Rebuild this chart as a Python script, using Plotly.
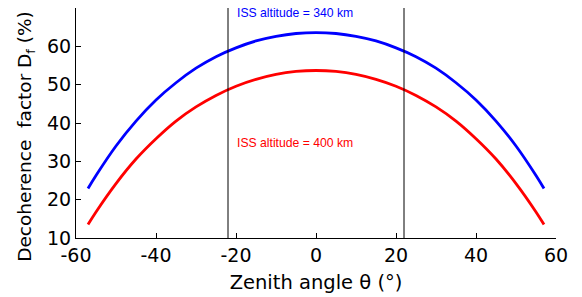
import plotly.graph_objects as go

theta = [-57, -55, -50, -45, -40, -35, -30, -25, -20, -15, -10, -5, 0,
         5, 10, 15, 20, 25, 30, 35, 40, 45, 50, 55, 57]
d_340 = [22.9, 26.3, 34.0, 40.5, 46.0, 50.5, 54.3, 57.3, 59.6, 61.4, 62.6, 63.35, 63.6,
         63.35, 62.6, 61.4, 59.6, 57.3, 54.3, 50.5, 46.0, 40.5, 34.0, 26.3, 22.9]
d_400 = [13.5, 16.8, 24.2, 30.6, 35.9, 40.5, 44.2, 47.2, 49.6, 51.4, 52.7, 53.45, 53.7,
         53.45, 52.7, 51.4, 49.6, 47.2, 44.2, 40.5, 35.9, 30.6, 24.2, 16.8, 13.5]
vlines = [-22, 22]
xticks = [-60, -40, -20, 0, 20, 40, 60]
xticktext = ["-60", "-40", "-20", "0", "20", "40", "60"]
yticks = [10, 20, 30, 40, 50, 60]
yticktext = ["10", "20", "30", "40", "50", "60"]
labels = ["ISS altitude = 340 km", "ISS altitude = 400 km"]
label_y = [68.8, 34.9]
x_title = "Zenith angle θ (°)"
y_title = "Decoherence  factor D<sub>f</sub> (%)"

FONT = "DejaVu Sans"

fig = go.Figure()
fig.add_trace(go.Scatter(x=theta, y=d_340, mode="lines",
                         line=dict(color="#0000ff", width=2.8, shape="spline"), showlegend=False))
fig.add_trace(go.Scatter(x=theta, y=d_400, mode="lines",
                         line=dict(color="#ff0000", width=2.8, shape="spline"), showlegend=False))
for v in vlines:
    fig.add_shape(type="line", x0=v, x1=v, y0=10, y1=70, xref="x", yref="y",
                  line=dict(color="black", width=1))
colors = ["#0000ff", "#ff0000"]
for t, yv, c in zip(labels, label_y, colors):
    fig.add_annotation(x=-20.3, y=yv, text=t, showarrow=False, xanchor="left", yanchor="middle",
                       font=dict(family="Liberation Sans, Arial", size=12.2, color=c))

# y-axis title as rotated annotation (positioned like the reference)
fig.add_annotation(x=0, y=0.44, xref="paper", yref="paper", text=y_title, textangle=-90,
                   showarrow=False, xanchor="center", yanchor="middle", xshift=-50,
                   font=dict(family=FONT, size=18.5, color="black"))

fig.update_layout(
    width=582, height=297,
    margin=dict(l=68, r=34, t=0, b=67),
    paper_bgcolor="white", plot_bgcolor="white",
    font=dict(family=FONT, size=19, color="black"),
)
fig.update_xaxes(range=[-60, 60], tickvals=xticks, ticktext=xticktext, ticks="inside", ticklen=5,
                 tickcolor="black", showline=True, linecolor="black", linewidth=1, showgrid=False,
                 zeroline=False, automargin=False,
                 title=dict(text=x_title, standoff=10, font=dict(family=FONT, size=19.5)),
                 tickfont=dict(family=FONT, size=19))
fig.update_yaxes(range=[10, 70], tickvals=yticks, ticktext=yticktext, ticks="inside", ticklen=5,
                 tickcolor="black", showline=True, linecolor="black", linewidth=1, showgrid=False,
                 zeroline=False, automargin=False,
                 tickfont=dict(family=FONT, size=19))

fig.write_html("out.html")
